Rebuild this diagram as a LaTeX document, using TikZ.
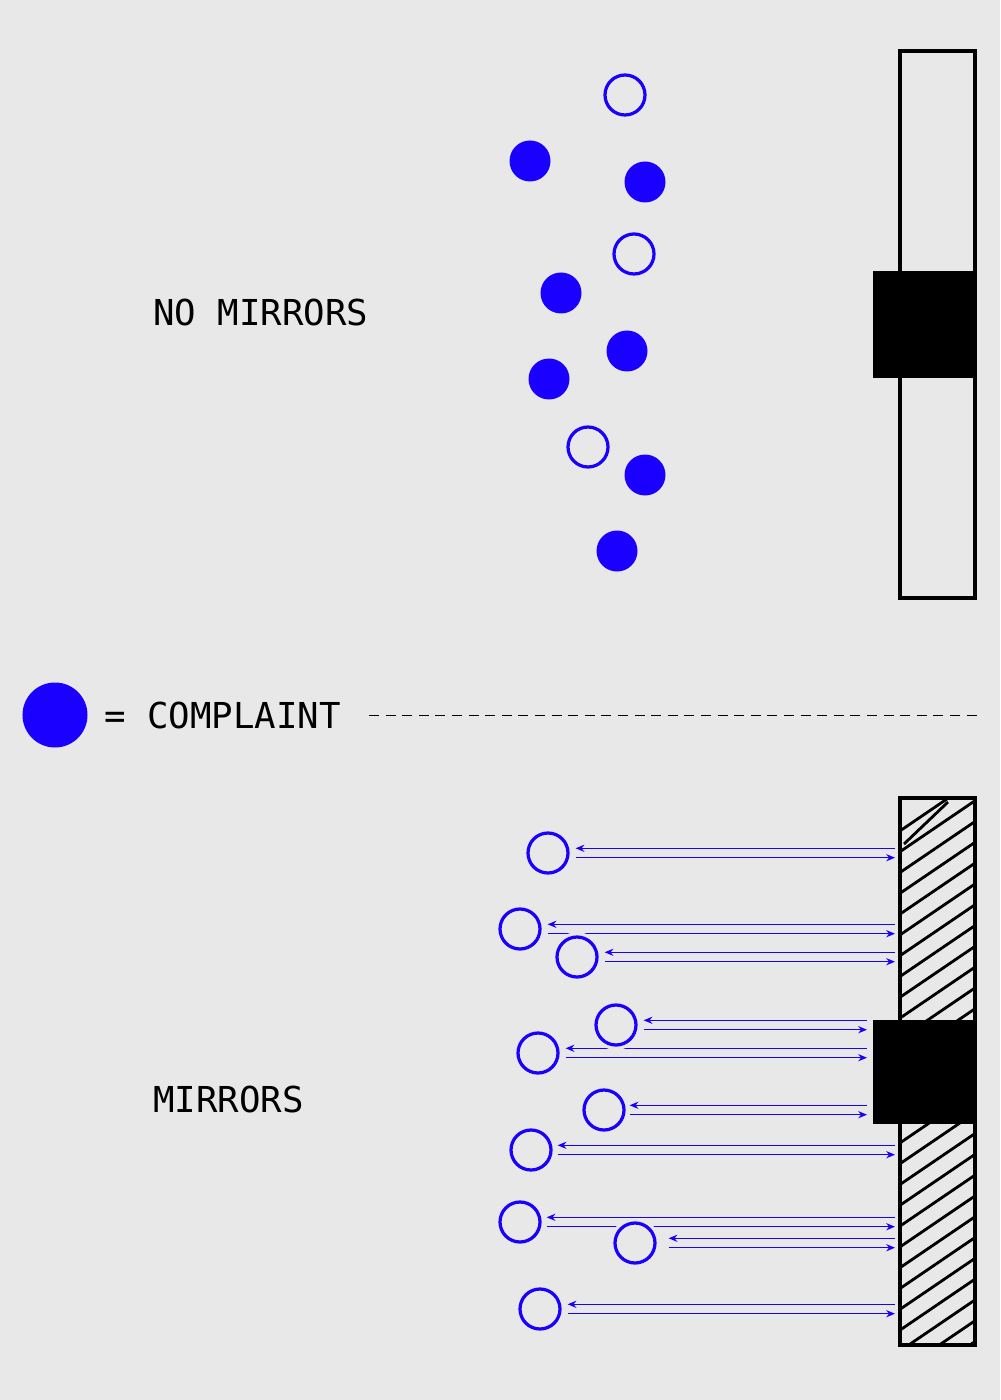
\documentclass[tikz,border=0pt]{standalone}
\usepackage{fontspec}
\usepackage{xcolor}
\usepackage{tikz}
\usetikzlibrary{arrows.meta, calc}
\newfontfamily\labelfont{DejaVu Sans Mono}
\definecolor{paper}{RGB}{232,232,232}
\definecolor{complaintblue}{RGB}{26,0,255}

\begin{document}
\begin{tikzpicture}[x=0.25mm, y=-0.25mm,
    complaint/.style={circle, fill=complaintblue, inner sep=0pt, minimum size=10.25mm},
    spot/.style={circle, inner sep=0pt, minimum size=10mm, outer sep=1.15pt},
    ring/.style={circle, draw=complaintblue, line width=2.3pt, inner sep=0pt, minimum size=10mm,
        preaction={draw=paper, line width=7pt}},
    wall/.style={draw=black, line width=2.5pt},
    hatch/.style={draw=black, line width=2pt},
    caption/.style={font=\labelfont\fontsize{25.4}{30}\selectfont, anchor=west, inner sep=0pt},
    ray/.style={complaintblue, line width=0.75pt, -{Stealth[length=2.2mm, width=1.8mm]}},
    divider/.style={black, line width=0.7pt, dash pattern=on 2.5mm off 1.65mm}
]
    % Background
    \fill[paper] (0,0) rectangle (1000,1400);

    % No mirrors
    \draw[wall] (900,51) rectangle (975,598);
    \fill[black] (873,271) rectangle (977,378);

    \node[ring] (quiet1) at (625,95) {};
    \node[ring] (quiet2) at (634,254) {};
    \node[ring] (quiet3) at (588,447) {};
    \foreach \i/\x/\y in {1/530/161, 2/645/182, 3/561/293, 4/627/351, 5/549/379, 6/645/475, 7/617/551}
        \node[complaint] (angry\i) at (\x,\y) {};

    \node[caption] (nomirrors) at (153,313) {NO MIRRORS};

    % Legend
    \node[complaint, minimum size=16.25mm] (key) at (55,715) {};
    \node[caption] (keytext) at (104,715) {= COMPLAINT};
    \draw[divider] (369,715) -- (977,715);

    % Mirrors
    \begin{scope}
        \clip (900,798) rectangle (975,1345);
        \foreach \k in {-1,...,27}
            \draw[hatch] (900,851.7+20.8*\k) -- ++(75,-51);
    \end{scope}
    \draw[hatch] (948,802) -- (904,844);
    \draw[wall] (900,798) rectangle (975,1345);
    \fill[black] (873,1020) rectangle (977,1124);

    \node[caption] (mirrors) at (153,1099) {MIRRORS};

    % Reflections
    \foreach \i/\x/\y/\e/\g in {1/548/853/895/6, 2/520/929/895/6, 3/577/957/895/6, 4/616/1025/867/6,
        5/538/1053/867/6, 6/604/1110/867/4, 7/531/1150/895/5, 8/520/1222/895/5,
        9/635/1243/895/12, 10/540/1309/895/6} {
        \node[spot] (echo\i) at (\x,\y) {};
        \coordinate (mirror\i) at (\e,\y);
        \draw[ray] ($(mirror\i)+(0,-4.7)$) -- ($(echo\i.east)+(\g,-4.7)$);
        \draw[ray] ($(echo\i.east)+(\g,4.7)$) -- ($(mirror\i)+(0,4.7)$);
    }
    \foreach \i in {1,...,10}
        \node[ring] at (echo\i) {};

\end{tikzpicture}
\end{document}
